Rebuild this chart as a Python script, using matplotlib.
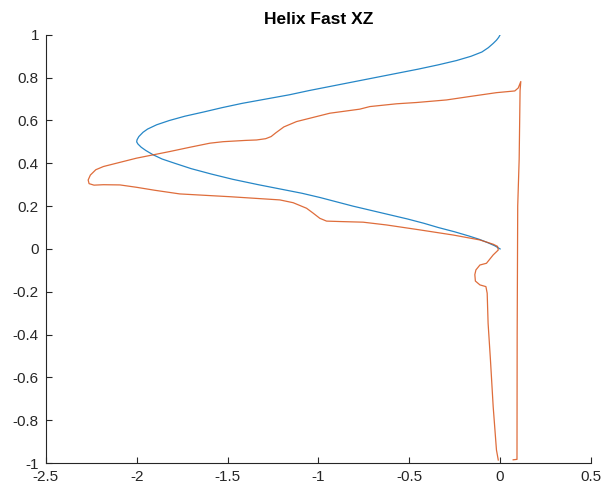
import matplotlib
matplotlib.use("Agg")
import matplotlib.pyplot as plt
from matplotlib.ticker import FuncFormatter

plt.rcParams["font.family"] = ["Liberation Sans", "DejaVu Sans"]

# Reference helix path (x, z)
helix_z = [0.000, 0.015, 0.030, 0.045, 0.060, 0.080, 0.100, 0.120, 0.140,
           0.160, 0.180, 0.200, 0.220, 0.240, 0.260, 0.280, 0.300, 0.325,
           0.350, 0.375, 0.400, 0.420, 0.440, 0.460, 0.475, 0.490, 0.500,
           0.510, 0.525, 0.545, 0.560, 0.580, 0.600, 0.620, 0.640, 0.660,
           0.680, 0.700, 0.720, 0.740, 0.760, 0.780, 0.800, 0.820, 0.840,
           0.860, 0.880, 0.900, 0.920, 0.940, 0.960, 0.975, 0.988, 1.000]
helix_x = [0.000, -0.030, -0.070, -0.115, -0.170, -0.250, -0.340, -0.420,
           -0.510, -0.610, -0.710, -0.810, -0.900, -0.990, -1.090, -1.210,
           -1.330, -1.470, -1.590, -1.700, -1.790, -1.860, -1.910, -1.950,
           -1.975, -1.993, -2.000, -1.998, -1.988, -1.965, -1.940, -1.890,
           -1.820, -1.735, -1.630, -1.530, -1.420, -1.290, -1.160, -1.050,
           -0.930, -0.810, -0.690, -0.570, -0.450, -0.340, -0.240, -0.160,
           -0.100, -0.065, -0.038, -0.020, -0.008, 0.000]

# Measured trajectory (x, z)
traj_x = [-0.010, -0.020, -0.038, -0.053, -0.066, -0.071, -0.078, -0.111,
          -0.136, -0.139, -0.133, -0.111, -0.075, -0.038, -0.010, -0.014,
          -0.038, -0.111, -0.258, -0.442, -0.625, -0.754, -0.882, -0.955,
          -0.992, -1.030, -1.065, -1.139, -1.212, -1.487, -1.763, -1.900,
          -2.001, -2.092, -2.183, -2.235, -2.262, -2.267, -2.255, -2.225,
          -2.183, -2.001, -1.818, -1.707, -1.597, -1.524, -1.400, -1.340,
          -1.290, -1.260, -1.235, -1.190, -1.120, -0.937, -0.772, -0.717,
          -0.570, -0.460, -0.295, -0.167, -0.020, 0.081, 0.100, 0.114,
          0.110, 0.105, 0.097, 0.094, 0.093, 0.072]
traj_z = [-0.986, -0.939, -0.737, -0.519, -0.347, -0.207, -0.176, -0.168,
          -0.150, -0.120, -0.098, -0.075, -0.067, -0.028, -0.005, 0.012,
          0.022, 0.042, 0.065, 0.089, 0.112, 0.125, 0.128, 0.130,
          0.143, 0.168, 0.190, 0.216, 0.229, 0.244, 0.257, 0.274,
          0.288, 0.299, 0.300, 0.298, 0.305, 0.322, 0.345, 0.370,
          0.385, 0.424, 0.455, 0.475, 0.494, 0.501, 0.507, 0.509,
          0.515, 0.525, 0.542, 0.570, 0.595, 0.634, 0.653, 0.665,
          0.678, 0.684, 0.696, 0.712, 0.730, 0.738, 0.752, 0.782,
          0.740, 0.420, 0.200, -0.400, -0.983, -0.985]

x_ticks = [-2.5, -2, -1.5, -1, -0.5, 0, 0.5]
y_ticks = [-1, -0.8, -0.6, -0.4, -0.2, 0, 0.2, 0.4, 0.6, 0.8, 1]

fig = plt.figure(figsize=(6.03, 4.91), dpi=100)
ax = fig.add_axes([0.076, 0.057, 0.904, 0.872])

ax.plot(helix_x, helix_z, color="#0072BD", lw=0.9, alpha=0.85)
ax.plot(traj_x, traj_z, color="#D95319", lw=0.9, alpha=0.85)

ax.set_xlim(-2.5, 0.5)
ax.set_ylim(-1, 1)
ax.set_xticks(x_ticks)
ax.set_yticks(y_ticks)
fmt = FuncFormatter(lambda v, p: "%g" % v)
ax.xaxis.set_major_formatter(fmt)
ax.yaxis.set_major_formatter(fmt)

axis_col = "#262626"
for side in ("top", "right"):
    ax.spines[side].set_visible(False)
for side in ("left", "bottom"):
    ax.spines[side].set_color(axis_col)
    ax.spines[side].set_linewidth(0.8)
ax.tick_params(direction="in", length=4, width=0.8, colors=axis_col,
               labelsize=11, pad=5)

ax.set_title("Helix Fast XZ", fontsize=12.5, fontweight="bold", color="black", pad=8)

fig.savefig("out.png", dpi=100)
